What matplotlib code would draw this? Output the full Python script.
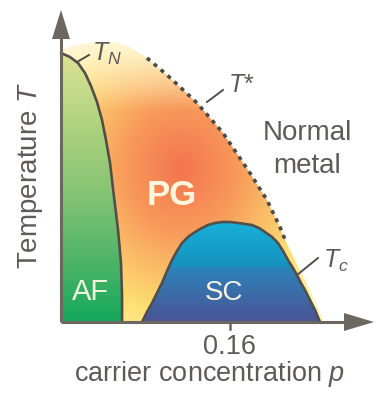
import numpy as np
import matplotlib
matplotlib.use("Agg")
import matplotlib.pyplot as plt
from matplotlib.patches import Polygon
from matplotlib.colors import to_rgb

plt.rcParams['font.family'] = ['Liberation Sans', 'DejaVu Sans']
plt.rcParams['mathtext.fontset'] = 'custom'
plt.rcParams['mathtext.it'] = 'Liberation Sans:italic'
plt.rcParams['mathtext.rm'] = 'Liberation Sans'

# ---------------- data (p = carrier concentration, T = temperature, arb. units) -------------
# antiferromagnetic boundary T_N
af_p = [0.0000, 0.0085, 0.0161, 0.0227, 0.0284, 0.0341, 0.0388, 0.0426, 0.0464, 0.0502, 0.0540, 0.0568, 0.0578, 0.0578]
af_T = [269, 265, 259, 249, 236, 220, 202, 182, 159, 125, 92, 59, 25, 0]
# superconducting dome T_c
sc_p = [0.0767, 0.0814, 0.0862, 0.0909, 0.0956, 0.1004, 0.1051, 0.1098, 0.1146, 0.1202, 0.1269,
        0.1335, 0.1392, 0.1458, 0.1524, 0.1600, 0.1676, 0.1742, 0.1808, 0.1875, 0.1931, 0.1998,
        0.2054, 0.2102, 0.2149, 0.2196, 0.2234, 0.2272, 0.2310, 0.2357, 0.2405, 0.2452]
sc_T = [0, 10, 19, 29, 39, 51, 62, 71, 79, 85, 90,
        94, 97, 99, 100, 100, 99, 98, 97, 94, 90, 85,
        79, 71, 62, 54, 47, 39, 32, 22, 12, 0]
# pseudogap crossover T* (dotted part)
ts_p = [0.0814, 0.1004, 0.1127, 0.1288, 0.1534, 0.1789, 0.1950, 0.2073, 0.2130]
ts_T = [264, 247, 235, 219, 189, 149, 122, 95, 80]
# continuation of pseudogap region edge down to axis
pg_tail_p = [0.2225, 0.2320, 0.2414, 0.2490]
pg_tail_T = [60, 40, 19, 0]
# faded top of the pseudogap region
pg_top_p = [0.0000, 0.0133, 0.0322, 0.0511, 0.0653]
pg_top_T = [272, 277, 280, 280, 275]

tick_vals = [0.16]
tick_labels = ["0.16"]

# ---------------- figure / coordinate frame ----------------
W, H = 379, 396
X0, K, Y0 = 61.0, 1056.25, 322.0   # pixel origin of axes and scale


def p_of(x):
    return (x - X0) / K


def T_of(y):
    return Y0 - y


fig = plt.figure(figsize=(W / 100, H / 100), dpi=100)
ax = fig.add_axes([0, 0, 1, 1])
ax.set_xlim(p_of(0), p_of(W))
ax.set_ylim(T_of(H), T_of(0))
ax.axis('off')

# pixel grid for gradients
xs = np.arange(W) + 0.5
ys = np.arange(H) + 0.5
XX, YY = np.meshgrid(xs, ys)
extent = (p_of(0), p_of(W), T_of(H), T_of(0))


def ramp(t, stops, colors):
    cols = np.array([to_rgb(c) for c in colors])
    out = np.zeros(t.shape + (3,))
    for k in range(3):
        out[..., k] = np.interp(t, stops, cols[:, k])
    return out


def clipped_image(img, verts, z):
    patch = Polygon(verts, closed=True, facecolor='none', edgecolor='none', transform=ax.transData)
    ax.add_patch(patch)
    im = ax.imshow(img, extent=extent, origin='upper', aspect='auto', interpolation='bilinear', zorder=z)
    im.set_clip_path(patch)
    return im


# ---- pseudogap region gradient
cx, cy = 182, 168
d = np.sqrt(((XX - cx) / 120.0) ** 2 + ((YY - cy) / 135.0) ** 2)
pg_img = ramp(d, [0.0, 0.45, 0.8, 1.1, 1.45],
              ['#f3744f', '#f8985a', '#fbc068', '#fde173', '#fef3b8'])
pale = np.clip((110 - YY) / 70.0, 0, 1)[..., None]
pg_img = pg_img * (1 - pale) + np.array(to_rgb('#fff8da')) * pale
pg_verts = ([(0.0, 0.0)] + list(zip(pg_top_p, pg_top_T)) + list(zip(ts_p, ts_T))
            + list(zip(pg_tail_p, pg_tail_T)))
clipped_image(pg_img, pg_verts, 1)

# ---- AF region gradient
af_img = ramp(YY, [53, 130, 200, 260, 322],
              ['#dde394', '#acd27e', '#80c273', '#4fb468', '#14a85c'])
af_verts = [(0.0, 0.0)] + list(zip(af_p, af_T))
clipped_image(af_img, af_verts, 2)

# ---- SC dome gradient
sc_img = ramp(YY, [223, 266, 268, 322],
              ['#17b0d8', '#1492c0', '#2d82b8', '#4b5496'])
sc_verts = list(zip(sc_p, sc_T))
clipped_image(sc_img, sc_verts, 2)

# ---------------- boundary lines ----------------
line_c = '#534e4a'
ax.plot(af_p, af_T, color=line_c, lw=1.9, zorder=4, solid_capstyle='round', solid_joinstyle='round')
ax.plot(sc_p, sc_T, color=line_c, lw=1.9, zorder=4, solid_capstyle='round', solid_joinstyle='round')
ax.plot(ts_p, ts_T, color='#4e4a47', lw=2.6, linestyle=(0, (1.1, 1.4)), zorder=4)

# leader lines
ax.plot([p_of(77), p_of(89)], [T_of(62), T_of(55)], color=line_c, lw=1.4, zorder=5)
ax.plot([p_of(207), p_of(223)], [T_of(102), T_of(90)], color=line_c, lw=1.4, zorder=5)
ax.plot([p_of(297), p_of(318)], [T_of(275), T_of(258)], color=line_c, lw=1.4, zorder=5)

# ---------------- axes with arrows ----------------
axis_c = '#6d6762'
ax.plot([0, 0], [0, T_of(36)], color=axis_c, lw=2.2, zorder=6, solid_capstyle='butt')
ax.plot([0, p_of(347)], [0, 0], color=axis_c, lw=2.2, zorder=6, solid_capstyle='butt')
ax.add_patch(Polygon([(p_of(52), T_of(39)), (p_of(61), T_of(10)), (p_of(70), T_of(39))],
                     closed=True, facecolor=axis_c, edgecolor='none', zorder=6))
ax.add_patch(Polygon([(p_of(344), T_of(313)), (p_of(374), T_of(322)), (p_of(344), T_of(331))],
                     closed=True, facecolor=axis_c, edgecolor='none', zorder=6))
txt_c = '#5f5a55'
for tv, tl in zip(tick_vals, tick_labels):
    ax.plot([tv, tv], [0, -7], color=axis_c, lw=1.8, zorder=6)
    ax.text(tv, T_of(354), tl, ha='center', va='baseline', fontsize=19.5, color=txt_c)

ax.text(p_of(210), T_of(381), r'carrier concentration $p$', ha='center', va='baseline',
        fontsize=19.5, color=txt_c)
ax.text(p_of(31), T_of(175), r'Temperature $T$', ha='center', va='center', rotation=90,
        fontsize=20, color=txt_c)

ax.text(p_of(307), T_of(140), 'Normal', ha='center', va='baseline', fontsize=20, color=txt_c)
ax.text(p_of(307), T_of(173), 'metal', ha='center', va='baseline', fontsize=20, color=txt_c)

ax.text(p_of(92), T_of(61), r'$T_N$', ha='left', va='baseline', fontsize=18, color=txt_c, zorder=7)
ax.text(p_of(228), T_of(92), r'$T$*', ha='left', va='baseline', fontsize=18, color=txt_c, zorder=7)
ax.text(p_of(323), T_of(268), r'$T_c$', ha='left', va='baseline', fontsize=18, color=txt_c, zorder=7)

# region labels
ax.text(p_of(172), T_of(205), 'PG', ha='center', va='baseline', fontsize=25, fontweight='bold',
        color='#fff6dc', zorder=7)
ax.text(p_of(90), T_of(300), 'AF', ha='center', va='baseline', fontsize=21, color='#eef6e2', zorder=7)
ax.text(p_of(224), T_of(300), 'SC', ha='center', va='baseline', fontsize=20, color='#f4f1e2', zorder=7)

fig.savefig('out.png', dpi=100)
